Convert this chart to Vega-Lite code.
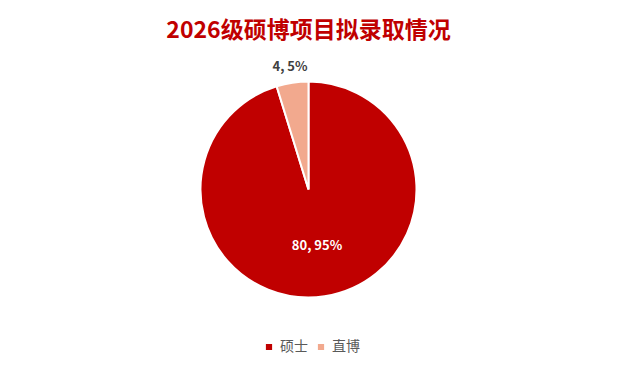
{
  "$schema": "https://vega.github.io/schema/vega-lite/v6.json",
  "width": 617,
  "height": 255,
  "autosize": "none",
  "padding": {"top": 62, "left": 0, "right": 0, "bottom": 54},
  "background": "white",
  "title": {
    "text": "2026级硕博项目拟录取情况",
    "anchor": "middle",
    "frame": "group",
    "offset": 18,
    "font": "Noto Sans CJK SC",
    "fontSize": 23,
    "fontWeight": "bold",
    "color": "#C00000"
  },
  "data": {
    "values": [
      {"类别": "硕士", "人数": 80, "标签": "80, 95%"},
      {"类别": "直博", "人数": 4, "标签": "4, 5%"}
    ]
  },
  "encoding": {
    "theta": {"field": "人数", "type": "quantitative", "stack": true},
    "order": {"field": "人数", "type": "quantitative", "sort": "descending"}
  },
  "layer": [
    {
      "mark": {"type": "arc", "outerRadius": 108, "stroke": "white", "strokeWidth": 2},
      "encoding": {
        "color": {
          "field": "类别",
          "type": "nominal",
          "scale": {"domain": ["硕士", "直博"], "range": ["#C00000", "#F2A98E"]},
          "legend": {
            "title": null,
            "orient": "none",
            "direction": "horizontal",
            "legendX": 262,
            "legendY": 278,
            "symbolType": "square",
            "symbolSize": 60,
            "labelFont": "Noto Sans CJK SC",
            "labelFontSize": 14,
            "labelColor": "#595959",
            "columnPadding": 6,
            "labelOffset": 4
          }
        }
      }
    },
    {
      "mark": {
        "type": "text",
        "radius": {"expr": "datum['类别'] == '硕士' ? 57 : 124"},
        "font": "Noto Sans CJK SC",
        "fontSize": 13,
        "fontWeight": "bold"
      },
      "encoding": {
        "text": {"field": "标签", "type": "nominal"},
        "color": {
          "condition": {"test": "datum['类别'] == '硕士'", "value": "white"},
          "value": "#404040"
        }
      }
    }
  ],
  "config": {"view": {"stroke": null}}
}
